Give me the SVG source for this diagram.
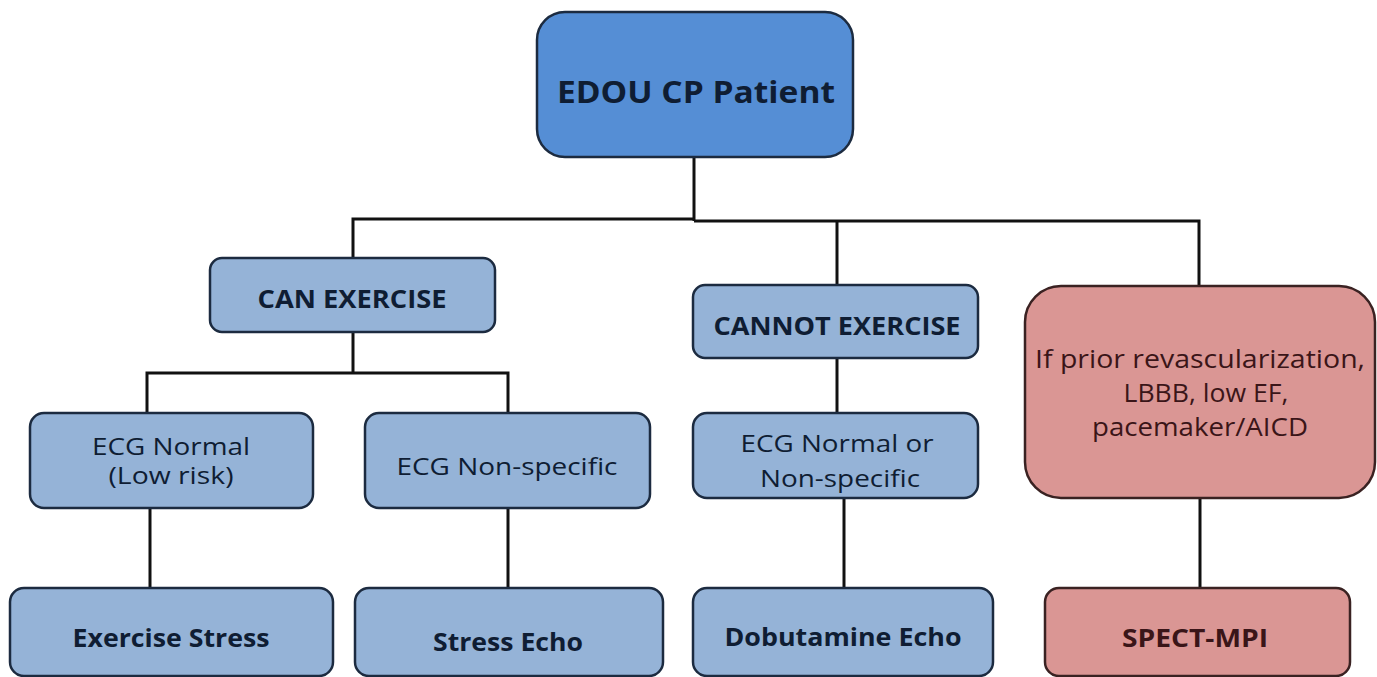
<svg xmlns="http://www.w3.org/2000/svg" width="1377" height="677" viewBox="0 0 1377 677">
  <style>
    .conn { fill: none; stroke: #111; stroke-width: 3; }
    .main { fill: #558ed5; stroke: #1c2b40; stroke-width: 2.5; }
    .blue { fill: #95b3d7; stroke: #1c2b40; stroke-width: 2.5; }
    .red { fill: #da9694; stroke: #3a2222; stroke-width: 2.5; }
    text { font-family: "Open Sans", "Liberation Sans", sans-serif; text-anchor: middle; }
    .tb { fill: #0f1d33; }
    .tr { fill: #3a1518; }
    .bold { font-weight: bold; }
    .reg { font-weight: normal; font-size: 23px; }
    .big { font-size: 25px; }
  </style>
  <rect x="0" y="0" width="1377" height="677" fill="#ffffff"/>
  <g id="connectors">
    <path class="conn" d="M694,157 V221"/>
    <path class="conn" d="M353,258 V219 H694"/>
    <path class="conn" d="M694,221 H1199 V286"/>
    <path class="conn" d="M837,221 V285"/>
    <path class="conn" d="M353,332 V373"/>
    <path class="conn" d="M147,413 V373 H508 V413"/>
    <path class="conn" d="M150,508 V588"/>
    <path class="conn" d="M508,508 V588"/>
    <path class="conn" d="M837,358 V413"/>
    <path class="conn" d="M844,498 V588"/>
    <path class="conn" d="M1200,498 V588"/>
  </g>
  <g id="edou">
    <rect class="main" x="537" y="12" width="316" height="145" rx="28"/>
    <text class="tb bold" x="696" y="103" font-size="30" textLength="278" lengthAdjust="spacingAndGlyphs">EDOU CP Patient</text>
  </g>
  <g id="can-exercise">
    <rect class="blue" x="210" y="258" width="285" height="74" rx="12"/>
    <text class="tb bold" x="352" y="308" font-size="25" textLength="189" lengthAdjust="spacingAndGlyphs">CAN EXERCISE</text>
  </g>
  <g id="cannot-exercise">
    <rect class="blue" x="693" y="285" width="285" height="73" rx="12"/>
    <text class="tb bold" x="837" y="335" font-size="25" textLength="247" lengthAdjust="spacingAndGlyphs">CANNOT EXERCISE</text>
  </g>
  <g id="prior-revasc">
    <rect class="red" x="1025" y="286" width="350" height="212" rx="36"/>
    <text class="tr reg big" x="1200" y="368" textLength="330" lengthAdjust="spacingAndGlyphs">If prior revascularization,</text>
    <text class="tr reg big" x="1206" y="402" textLength="165" lengthAdjust="spacingAndGlyphs">LBBB, low EF,</text>
    <text class="tr reg big" x="1200" y="436" textLength="216" lengthAdjust="spacingAndGlyphs">pacemaker/AICD</text>
  </g>
  <g id="ecg-normal">
    <rect class="blue" x="30" y="413" width="283" height="95" rx="14"/>
    <text class="tb reg" x="171" y="455" textLength="158" lengthAdjust="spacingAndGlyphs">ECG Normal</text>
    <text class="tb reg" x="171" y="484" textLength="125" lengthAdjust="spacingAndGlyphs">(Low risk)</text>
  </g>
  <g id="ecg-nonspecific">
    <rect class="blue" x="365" y="413" width="285" height="95" rx="14"/>
    <text class="tb reg" x="507" y="475" textLength="221" lengthAdjust="spacingAndGlyphs">ECG Non-specific</text>
  </g>
  <g id="ecg-normal-or">
    <rect class="blue" x="693" y="413" width="285" height="85" rx="14"/>
    <text class="tb reg" x="837" y="452" textLength="193" lengthAdjust="spacingAndGlyphs">ECG Normal or</text>
    <text class="tb reg" x="840" y="487" textLength="160" lengthAdjust="spacingAndGlyphs">Non-specific</text>
  </g>
  <g id="exercise-stress">
    <rect class="blue" x="10" y="588" width="323" height="88" rx="14"/>
    <text class="tb bold" x="171" y="647" font-size="25" textLength="197" lengthAdjust="spacingAndGlyphs">Exercise Stress</text>
  </g>
  <g id="stress-echo">
    <rect class="blue" x="355" y="588" width="308" height="88" rx="14"/>
    <text class="tb bold" x="508" y="651" font-size="25" textLength="150" lengthAdjust="spacingAndGlyphs">Stress Echo</text>
  </g>
  <g id="dobutamine-echo">
    <rect class="blue" x="693" y="588" width="300" height="88" rx="14"/>
    <text class="tb bold" x="843" y="646" font-size="25" textLength="237" lengthAdjust="spacingAndGlyphs">Dobutamine Echo</text>
  </g>
  <g id="spect-mpi">
    <rect class="red" x="1045" y="588" width="305" height="88" rx="14"/>
    <text class="tr bold" x="1195" y="647" font-size="25" textLength="146" lengthAdjust="spacingAndGlyphs">SPECT-MPI</text>
  </g>
</svg>
